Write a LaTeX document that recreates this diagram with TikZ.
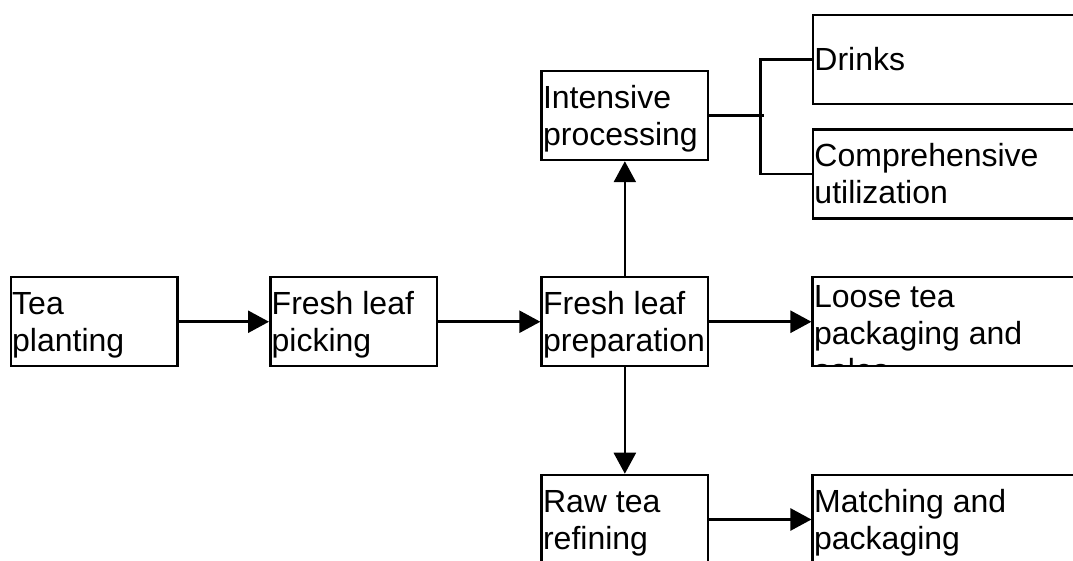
\documentclass[tikz,border=0pt]{standalone}
\usepackage{fontspec}
\setmainfont{Liberation Sans}
\usetikzlibrary{arrows.meta}
\newcommand\lnstrut{\rule[-7pt]{0pt}{37pt}}
\begin{document}
\begin{tikzpicture}[x=1pt,y=1pt,
  stagebox/.style={draw=black, line width=2.5pt, fill=white, rectangle,
    minimum height=89pt, inner sep=0pt},
  smallbox/.style={stagebox, minimum width=166.5pt},
  widebox/.style={stagebox, minimum width=300pt},
  boxtext/.style={anchor=west, align=left, inner sep=0pt, xshift=2.5pt,
    font=\fontsize{32}{37}\selectfont},
  conn/.style={line width=2.5pt},
  flow/.style={conn, -{Triangle[length=21pt, width=22pt]}}
]
\useasboundingbox (0,0) rectangle (1073,561);
\clip (0,0) rectangle (1073,561);

% boxes
\node[smallbox] (tea)    at (94,239.25)    {};
\node[smallbox] (pick)   at (353.5,239.25) {};
\node[smallbox] (prep)   at (624.85,239.25) {};
\node[widebox]  (loose)  at (962.7,239.25) {};
\node[smallbox] (intens) at (624.85,445.5) {};
\node[widebox]  (drinks) at (963,501.5)   {};
\node[widebox]  (comp)   at (963,387.2)   {};
\node[smallbox] (raw)    at (624.85,41.5)  {};
\node[widebox]  (match)  at (962.7,41.5)  {};

% texts
\node[boxtext] (teat)    at (tea.west)    {\lnstrut Tea\\\lnstrut planting};
\node[boxtext] (pickt)   at (pick.west)   {\lnstrut Fresh leaf\\\lnstrut picking};
\node[boxtext] (prept)   at (prep.west)   {\lnstrut Fresh leaf\\\lnstrut preparation};
\node[boxtext] (intenst) at (intens.west) {\lnstrut Intensive\\\lnstrut processing};
\node[boxtext] (drinkst) at (drinks.west) {\lnstrut Drinks};
\node[boxtext] (compt)   at (comp.west)   {\lnstrut Comprehensive\\\lnstrut utilization};
\node[boxtext] (rawt)    at (raw.west)    {\lnstrut Raw tea\\\lnstrut refining};
\node[boxtext] (matcht)  at (match.west)  {\lnstrut Matching and\\\lnstrut packaging};
\begin{scope}
  \clip ([xshift=1.25pt,yshift=-2.5pt]loose.north west) rectangle ([xshift=-1.25pt,yshift=2.5pt]loose.south east);
  \node[boxtext, yshift=-11.5pt] (looset) at (loose.west)
    {\lnstrut Loose tea\\\lnstrut packaging and\\\lnstrut sales};
\end{scope}

% connectors
\draw[flow] (tea) -- (pick);
\draw[flow] (pick) -- (prep);
\draw[flow] (prep) -- (loose);
\draw[flow] (prep) -- (intens);
\draw[flow] (prep) -- (raw);
\draw[flow] (raw) -- (match);

\coordinate (bx) at (760.7,445.5);
\draw[conn] (intens.east) -- ++(54.7,0);
\draw[conn] (drinks.west) -- (drinks.west -| bx) -- (comp.west -| bx) -- (comp.west);
\end{tikzpicture}
\end{document}
